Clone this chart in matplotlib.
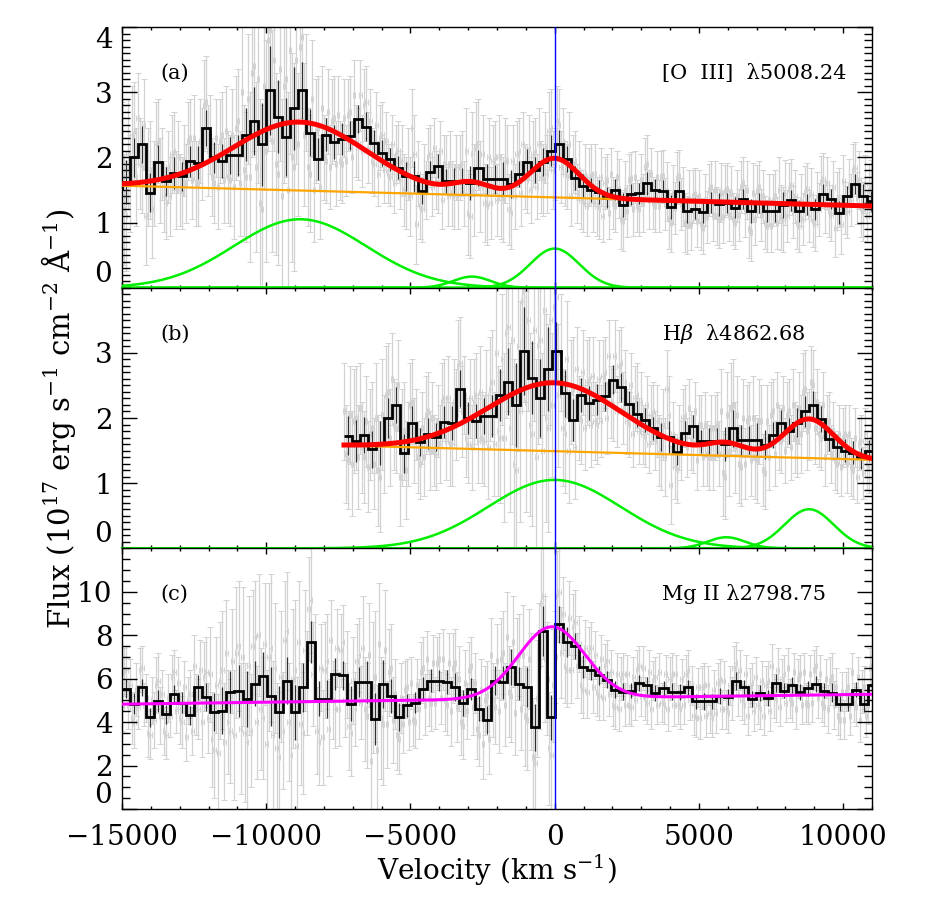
"""Velocity profiles of [O III] 5008, Hbeta and Mg II with the Gaussian line fits.

Panels (a) and (b) are the same stretch of spectrum shown in the [O III] and
Hbeta velocity frames; panel (c) is the Mg II region.  Writes out.png.
"""

import numpy as np
import matplotlib
matplotlib.use("Agg")
import matplotlib.pyplot as plt
from matplotlib.ticker import MultipleLocator

plt.rcParams["font.family"] = ["DejaVu Serif"]
plt.rcParams["mathtext.fontset"] = "dejavuserif"

BIN_W = 278.0  # km/s per binned pixel
V_SHIFT_HB = 8820.0  # Hbeta frame = [O III] frame + this

# --- Hbeta / [O III] region, [O III] velocity frame ------------------------
START_AB = -16124.0  # left edge of the first bin
HIST_AB = [
    1.73, 1.65, 1.74, 1.52, 1.62, 2.00, 2.20, 1.46, 1.93, 1.63,
    1.76, 1.71, 1.94, 1.92, 2.45, 2.00, 1.95, 2.03, 2.03, 2.35,
    2.56, 2.20, 3.03, 2.62, 2.31, 2.75, 3.03, 2.38, 1.97, 2.35,
    2.23, 2.28, 2.33, 2.59, 2.47, 2.22, 2.06, 1.97, 1.84, 1.71,
    1.71, 1.48, 1.77, 1.87, 1.64, 1.64, 1.64, 1.60, 1.84, 1.66,
    1.66, 1.67, 1.59, 1.74, 1.93, 1.80, 1.93, 2.10, 2.20, 1.98,
    1.68, 1.56, 1.50, 1.47, 1.38, 1.50, 1.27, 1.43, 1.45, 1.60,
    1.50, 1.49, 1.24, 1.48, 1.18, 1.21, 1.16, 1.31, 1.28, 1.30,
    1.23, 1.36, 1.18, 1.30, 1.17, 1.17, 1.27, 1.34, 1.17, 1.28,
    1.20, 1.43, 1.36, 1.15, 1.40, 1.59, 1.41, 1.33,
]
ERR_AB = [
    0.75, 0.8, 0.7, 0.7, 0.85, 0.75, 0.7, 0.75, 0.65,
    0.55, 0.6, 0.55, 0.6, 0.65, 0.7, 0.6, 0.65, 0.7, 0.8,
    1.0, 1.3, 1.6, 1.7, 1.4, 1.5, 1.6, 1.1, 0.9, 0.8,
    0.65, 0.65, 0.6, 0.55, 0.55, 0.55,
    0.5, 0.5, 0.45, 0.45, 0.55, 0.6, 0.5, 0.45, 0.45, 0.45, 0.5, 0.5,
    0.65, 0.7, 0.6, 0.55, 0.65, 0.55, 0.5,
    0.5, 0.5, 0.55, 0.6, 0.55, 0.5, 0.45, 0.45,
    0.45, 0.45, 0.4, 0.4, 0.45, 0.4, 0.4, 0.45, 0.4, 0.4, 0.45, 0.4,
    0.45, 0.4, 0.4, 0.4, 0.45, 0.4, 0.4, 0.4, 0.45, 0.4, 0.4, 0.4,
    0.5, 0.4, 0.4, 0.4, 0.4, 0.4, 0.4, 0.45, 0.4, 0.4, 0.45, 0.4,
]
# unbinned pixels, at 1/4 and 3/4 of each bin
GRAY_AB = [
    1.45, 2.05, 1.95, 1.40, 1.55, 1.95, 1.75, 1.30, 1.20, 2.05,
    2.35, 1.70, 1.90, 2.50, 1.70, 1.20, 2.20, 1.65, 1.40, 1.85,
    2.05, 1.50, 1.50, 1.95, 2.25, 1.65, 1.60, 2.25, 2.80, 2.10,
    1.70, 2.30, 2.25, 1.65, 1.70, 2.35, 2.45, 1.60, 1.80, 2.90,
    3.30, 1.85, 1.30, 3.10, 3.80, 2.25, 1.90, 3.35, 3.10, 1.50,
    2.00, 3.50, 3.70, 2.35, 1.85, 2.90, 2.40, 1.55, 2.00, 2.70,
    2.55, 1.90, 1.95, 2.60, 2.65, 2.00, 2.25, 2.95, 2.80, 2.15,
    1.95, 2.50, 2.30, 1.80, 1.75, 2.20, 2.05, 1.65, 1.50, 1.90,
    2.45, 0.97, 1.25, 1.70, 2.00, 1.55, 1.65, 2.10, 1.90, 1.40,
    1.45, 1.85, 1.85, 1.45, 1.15, 2.05, 2.15, 1.55, 1.30, 2.00,
    1.95, 1.35, 1.40, 1.95, 1.20, 1.95, 2.05, 1.45, 1.70, 2.15,
    2.05, 1.55, 1.70, 2.15, 2.40, 1.80, 2.55, 1.85, 1.75, 2.20,
    1.90, 1.45, 1.35, 1.75, 1.70, 1.30, 1.25, 1.70, 1.60, 1.15,
    1.30, 1.70, 1.05, 1.50, 1.65, 1.20, 1.25, 1.65, 1.85, 1.35,
    1.30, 1.70, 1.70, 1.28, 1.05, 1.43, 1.68, 1.28, 1.00, 1.36,
    1.40, 1.02, 0.98, 1.34, 1.50, 1.12, 1.10, 1.46, 1.48, 1.12,
    1.05, 1.41, 1.55, 1.17, 0.90, 1.46, 1.48, 1.12, 1.00, 1.34,
    1.35, 0.99, 1.08, 1.46, 1.52, 1.16, 0.99, 1.35, 1.46, 1.10,
    1.02, 1.38, 1.62, 1.24, 1.18, 1.54, 1.33, 0.97, 1.22, 1.58,
    1.80, 1.38, 1.23, 1.59, 1.50, 1.16,
]
# unbinned pixels, at the start and the middle of each bin
GRAY_AB_2 = [
    2.10, 1.35, 1.30, 2.00, 2.15, 1.40, 1.25, 1.85, 2.00, 1.10,
    1.60, 2.40, 2.60, 1.85, 1.10, 1.80, 1.60, 2.25, 1.90, 1.30,
    1.40, 2.10, 2.00, 1.45, 1.60, 2.30, 2.30, 1.60, 2.05, 2.85,
    2.35, 1.60, 1.55, 2.35, 2.40, 1.65, 1.55, 2.55, 3.00, 1.70,
    1.70, 3.40, 3.20, 1.20, 2.10, 3.95, 3.50, 1.75, 1.40, 3.20,
    3.65, 1.85, 2.20, 3.85, 3.00, 1.75, 1.50, 2.45, 2.75, 1.95,
    1.85, 2.60, 2.65, 1.90, 1.95, 2.70, 2.95, 2.20, 2.10, 2.85,
    2.55, 1.90, 1.75, 2.35, 2.25, 1.70, 1.60, 2.10, 1.95, 1.45,
    1.40, 2.05, 1.75, 1.20, 1.50, 2.05, 2.15, 1.60, 1.35, 1.90,
    1.90, 1.40, 1.40, 1.90, 2.10, 1.10, 1.50, 2.20, 2.05, 1.25,
    1.30, 2.00, 2.00, 1.35, 1.95, 1.15, 1.40, 2.10, 2.20, 1.65,
    1.50, 2.10, 2.20, 1.65, 1.75, 2.45, 1.90, 2.50, 2.25, 1.70,
    1.40, 1.95, 1.80, 1.30, 1.25, 1.75, 1.75, 1.20, 1.10, 1.65,
    1.75, 1.25, 1.52, 1.02, 1.18, 1.68, 1.70, 1.20, 1.30, 1.90,
    1.75, 1.25, 1.25, 1.72, 1.48, 1.00, 1.22, 1.72, 1.40, 0.96,
    0.98, 1.44, 1.40, 0.92, 1.08, 1.54, 1.50, 1.06, 1.08, 1.52,
    1.46, 1.00, 1.12, 1.60, 1.50, 0.86, 1.06, 1.54, 1.40, 0.94,
    0.95, 1.40, 1.50, 1.04, 1.10, 1.58, 1.40, 0.94, 1.05, 1.51,
    1.43, 0.97, 1.20, 1.66, 1.60, 1.12, 0.92, 1.38, 1.64, 1.16,
    1.35, 1.83, 1.65, 1.17, 1.10, 1.56,
]
CONT_AB = (1.385, -1.2e-5)  # continuum at v = 0, slope per km/s
# (centre km/s, amplitude, sigma km/s): broad Hbeta, [O III] 4960, [O III] 5008
GAUSS_AB = [(-8830.0, 1.05, 2300.0), (-2870.0, 0.17, 650.0), (0.0, 0.60, 850.0)]

# --- Mg II region -----------------------------------------------------------
START_C = -14992.0
HIST_C = [
    5.53, 4.85, 5.60, 4.23, 4.98, 4.37, 5.30, 4.90, 4.31, 5.60,
    5.14, 4.45, 4.52, 5.38, 5.45, 5.07, 5.76, 6.11, 5.20, 4.45,
    5.91, 4.45, 5.60, 7.70, 5.07, 5.07, 6.22, 6.15, 4.85, 5.84,
    5.84, 4.15, 5.76, 5.20, 4.23, 4.77, 4.90, 5.53, 5.91, 5.91,
    5.84, 5.60, 4.90, 5.53, 4.62, 4.08, 5.91, 5.84, 6.53, 5.76,
    5.60, 3.77, 8.20, 4.23, 8.50, 7.70, 7.50, 6.55, 6.40, 6.15,
    5.95, 5.50, 5.40, 5.45, 5.80, 5.70, 5.35, 5.55, 5.40, 5.40,
    5.60, 4.95, 4.95, 4.95, 5.20, 5.15, 5.90, 5.60, 5.05, 5.35,
    5.10, 5.80, 5.45, 5.70, 5.40, 5.55, 5.75, 5.45, 5.35, 4.85,
    4.85, 5.50, 4.85, 5.70,
]
ERR_C = [
    1.1, 1.2, 1.0, 1.1, 1.3, 1.1, 1.0, 1.2, 1.1, 1.4, 1.6,
    2.2, 2.7, 2.4, 3.0, 3.2, 2.6, 2.8, 3.4, 3.0, 2.7, 3.2, 2.8, 2.4, 2.0,
    2.2, 1.8, 1.7, 2.0,
    1.7, 2.4, 3.0, 2.8, 2.0, 1.6,
    1.3, 1.2, 1.4, 1.3, 1.2, 1.4, 1.6, 1.5, 1.3, 1.4, 1.6, 1.7,
    1.9, 2.1, 1.9, 2.3, 2.7, 2.9, 2.6, 2.1, 1.7, 1.5,
    1.3, 1.2, 1.1, 1.0, 1.0, 1.0, 0.9, 0.9, 1.0, 0.9, 0.9, 1.0, 0.9,
    0.9, 0.9, 1.0, 0.9, 0.9, 0.9, 1.0, 0.9, 0.9, 0.9, 0.9, 1.0, 0.9,
    0.9, 0.9, 0.9, 0.9, 0.9, 1.1, 0.9, 0.9, 0.9, 1.0, 0.9,
]
GRAY_C = [
    6.3, 4.8, 4.2, 5.5, 6.4, 4.8, 3.5, 5.0, 5.7, 4.3,
    3.6, 5.1, 6.1, 4.5, 4.2, 5.6, 5.0, 3.6, 4.8, 6.4,
    6.1, 4.2, 3.2, 5.7, 5.9, 3.1, 4.0, 6.8, 7.2, 3.7,
    3.5, 6.6, 7.5, 4.0, 4.6, 7.6, 7.0, 3.4, 2.8, 6.1,
    7.8, 4.0, 6.0, 2.9, 3.9, 7.3, 9.2, 6.2, 3.6, 6.5,
    6.4, 3.7, 5.0, 7.4, 7.3, 5.0, 3.8, 5.9, 6.8, 4.9,
    4.6, 7.1, 5.6, 2.7, 4.2, 7.3, 6.3, 4.1, 3.4, 5.1,
    5.5, 4.0, 4.1, 5.7, 6.3, 4.8, 5.1, 6.7, 6.7, 5.1,
    5.0, 6.7, 6.5, 4.7, 4.0, 5.8, 6.4, 4.7, 3.7, 5.5,
    5.0, 3.2, 5.0, 6.8, 6.9, 4.8, 5.4, 7.7, 6.9, 4.6,
    4.3, 6.9, 2.4, 5.1, 9.5, 6.9, 2.8, 5.7, 9.8, 7.2,
    6.6, 8.8, 8.4, 6.6, 5.7, 7.4, 7.2, 5.6, 5.4, 6.9,
    6.6, 5.3, 4.8, 6.2, 6.0, 4.8, 4.8, 6.1, 6.4, 5.2,
    5.1, 6.3, 5.9, 4.8, 4.9, 6.2, 6.0, 4.8, 4.8, 6.0,
    6.2, 5.0, 4.3, 5.6, 5.6, 4.3, 4.4, 5.5, 5.8, 4.6,
    4.6, 5.7, 6.5, 5.3, 5.0, 6.2, 5.6, 4.5, 4.8, 5.9,
    5.7, 4.5, 5.2, 6.4, 6.0, 4.9, 5.1, 6.3, 6.0, 4.8,
    4.9, 6.2, 6.4, 5.1, 4.9, 6.0, 5.9, 4.8, 4.3, 5.4,
    5.4, 4.3, 4.9, 6.1, 5.4, 4.3, 6.5, 4.9,
]
GRAY_C_2 = [
    4.7, 6.4, 5.7, 4.0, 4.7, 6.5, 5.1, 3.4, 4.1, 5.9,
    5.3, 3.4, 4.3, 6.3, 5.8, 4.0, 3.3, 5.3, 6.6, 4.6,
    4.0, 6.3, 6.2, 2.7, 2.6, 6.4, 7.2, 3.6, 3.4, 7.5,
    7.0, 3.1, 3.6, 7.9, 8.0, 4.2, 3.0, 7.4, 6.5, 2.4,
    3.6, 8.2, 2.5, 6.4, 7.7, 3.5, 5.8, 9.6, 7.0, 3.1,
    3.3, 6.8, 7.8, 4.6, 4.6, 7.7, 6.2, 3.5, 4.6, 7.1,
    7.4, 4.3, 2.2, 6.1, 7.6, 3.9, 3.9, 6.5, 5.3, 3.2,
    3.9, 5.6, 5.8, 4.0, 4.6, 6.5, 6.9, 4.9, 4.9, 6.9,
    6.9, 4.8, 4.5, 6.7, 6.0, 3.8, 4.5, 6.6, 5.8, 3.4,
    3.0, 5.2, 7.1, 4.7, 4.5, 7.2, 7.9, 5.2, 4.4, 7.1,
    7.1, 4.1, 5.4, 2.1, 6.6, 9.8, 6.0, 2.5, 7.0, 10.0,
    9.0, 6.4, 6.4, 8.6, 7.6, 5.5, 5.4, 7.4, 7.1, 5.2,
    5.1, 6.8, 6.3, 4.7, 4.6, 6.2, 6.2, 4.7, 5.0, 6.6,
    6.5, 4.9, 4.6, 6.1, 6.3, 4.8, 4.6, 6.2, 6.2, 4.6,
    4.8, 6.4, 5.7, 4.2, 4.2, 5.7, 5.7, 4.2, 4.4, 6.0,
    5.9, 4.4, 5.1, 6.7, 6.4, 4.8, 4.3, 5.8, 6.1, 4.6,
    4.3, 5.9, 6.6, 5.0, 4.7, 6.2, 6.5, 4.9, 4.6, 6.2,
    6.3, 4.8, 4.9, 6.6, 6.2, 4.7, 4.6, 6.1, 5.6, 4.1,
    4.1, 5.6, 6.3, 4.7, 4.1, 5.6, 4.8, 6.6,
]
CONT_C = (5.09, 1.75e-5)
GAUSS_C = [(-100.0, 3.3, 1150.0)]

LABELS = ["(a)", "(b)", "(c)"]
LINES = ["[O  III]  \u03bb5008.24", "H$\\beta$  \u03bb4862.68", "Mg II \u03bb2798.75"]
XLIM = (-15000, 11000)

GRAY = "#d2d2d2"
GREEN = "#00ee00"


def gauss(v, centre, amp, sigma):
    return amp * np.exp(-0.5 * ((v - centre) / sigma) ** 2)


def draw_data(ax, start, hist, err, grays, shift=0.0):
    """Unbinned pixels (grey), binned histogram (black); returns the edges."""
    hist = np.asarray(hist)
    err = np.asarray(err)
    edges = start + shift + BIN_W * np.arange(len(hist) + 1)
    centres = 0.5 * (edges[:-1] + edges[1:])
    for gray, offs in zip(grays, ([0.25, 0.75], [0.0, 0.5])):
        gx = (edges[:-1, None] + BIN_W * np.array(offs)).ravel()
        ax.errorbar(gx, gray, yerr=np.repeat(err, 2), xerr=45, fmt="none",
                    ecolor=GRAY, elinewidth=0.9, capsize=2.2, capthick=0.7,
                    zorder=1)
    ax.errorbar(centres, hist, yerr=0.4 * err, fmt="none", ecolor="#303030",
                elinewidth=0.9, zorder=2)
    ax.stairs(hist, edges, baseline=None, color="black", lw=2.0, zorder=3)
    return edges


def draw_fit(ax, vgrid, cont, comps, shift, color, lw, parts=True):
    v0 = vgrid - shift  # into the frame the parameters were read in
    continuum = cont[0] + cont[1] * v0
    total = continuum + sum(gauss(v0, *c) for c in comps)
    if parts:
        vfull = np.linspace(XLIM[0], XLIM[1], 2000)
        for c in comps:
            ax.plot(vfull, gauss(vfull - shift, *c), color=GREEN, lw=1.8,
                    zorder=4)
        ax.plot(vgrid, continuum, color="orange", lw=1.6, zorder=4)
    ax.plot(vgrid, total, color=color, lw=lw, zorder=5)


fig = plt.figure(figsize=(9.37, 9.0), dpi=100)
gs = fig.add_gridspec(3, 1, left=0.1302, right=0.9306, top=0.970,
                      bottom=0.1011, hspace=0.0)
axes = [fig.add_subplot(gs[i]) for i in range(3)]

# (a) [O III] frame
ax = axes[0]
edges = draw_data(ax, START_AB, HIST_AB, ERR_AB, [GRAY_AB, GRAY_AB_2])
draw_fit(ax, np.linspace(edges[0], edges[-1], 2500), CONT_AB, GAUSS_AB,
         0.0, "red", 3.6)
ax.set_ylim(0, 4.0)
ax.set_yticks([0, 1, 2, 3, 4])
ax.yaxis.set_minor_locator(MultipleLocator(0.1))

# (b) Hbeta frame, same pixels shifted
ax = axes[1]
edges = draw_data(ax, START_AB, HIST_AB, ERR_AB, [GRAY_AB, GRAY_AB_2],
                  shift=V_SHIFT_HB)
draw_fit(ax, np.linspace(edges[0], edges[-1], 2500), CONT_AB, GAUSS_AB,
         V_SHIFT_HB, "red", 3.6)
ax.set_ylim(0, 4.0)
ax.set_yticks([0, 1, 2, 3])
ax.yaxis.set_minor_locator(MultipleLocator(0.1))

# (c) Mg II
ax = axes[2]
edges = draw_data(ax, START_C, HIST_C, ERR_C, [GRAY_C, GRAY_C_2])
draw_fit(ax, np.linspace(XLIM[0], XLIM[1], 2500), CONT_C, GAUSS_C, 0.0,
         "#ff00ff", 2.2, parts=False)
ax.set_ylim(0, 12.0)
ax.set_yticks([0, 2, 4, 6, 8, 10])
ax.yaxis.set_minor_locator(MultipleLocator(0.5))

for i, ax in enumerate(axes):
    ax.set_xlim(*XLIM)
    if i < 2:
        ax.axhline(0, color=GREEN, lw=1.5, zorder=6, clip_on=False)
    ax.axvline(0, color="blue", lw=1.0, zorder=7)
    ax.xaxis.set_major_locator(MultipleLocator(5000))
    ax.xaxis.set_minor_locator(MultipleLocator(1000))
    ax.tick_params(axis="both", which="both", direction="in", top=True,
                   right=True, width=1.0)
    ax.tick_params(axis="x", which="major", length=4.5, labelsize=20, pad=11)
    ax.tick_params(axis="x", which="minor", length=2.5)
    ax.tick_params(axis="y", which="major", length=10.5, labelsize=20, pad=7)
    ax.tick_params(axis="y", which="minor", length=5.5)
    if i < 2:
        ax.tick_params(axis="x", labelbottom=False)
    for sp in ax.spines.values():
        sp.set_linewidth(1.0)
    ax.text(0.051, 0.823, LABELS[i], transform=ax.transAxes, fontsize=15,
            va="center", ha="left")
    ax.text(0.72, 0.823, LINES[i], transform=ax.transAxes, fontsize=15,
            va="center", ha="left")

# IDL nudges the end labels inside the panel
fig.canvas.draw()
for ax in axes:
    lbls = ax.get_yticklabels()
    lbls[0].set_verticalalignment("bottom")
    if ax is axes[0]:
        lbls[-1].set_verticalalignment("top")

axes[2].set_xlabel("Velocity (km s$^{-1}$)", fontsize=20, labelpad=1)
fig.text(0.062, 0.535,
         "Flux (10$^{17}$ erg s$^{-1}$ cm$^{-2}$ \u00c5$^{-1}$)",
         rotation=90, fontsize=21, ha="center", va="center")

fig.savefig("out.png", dpi=100)
